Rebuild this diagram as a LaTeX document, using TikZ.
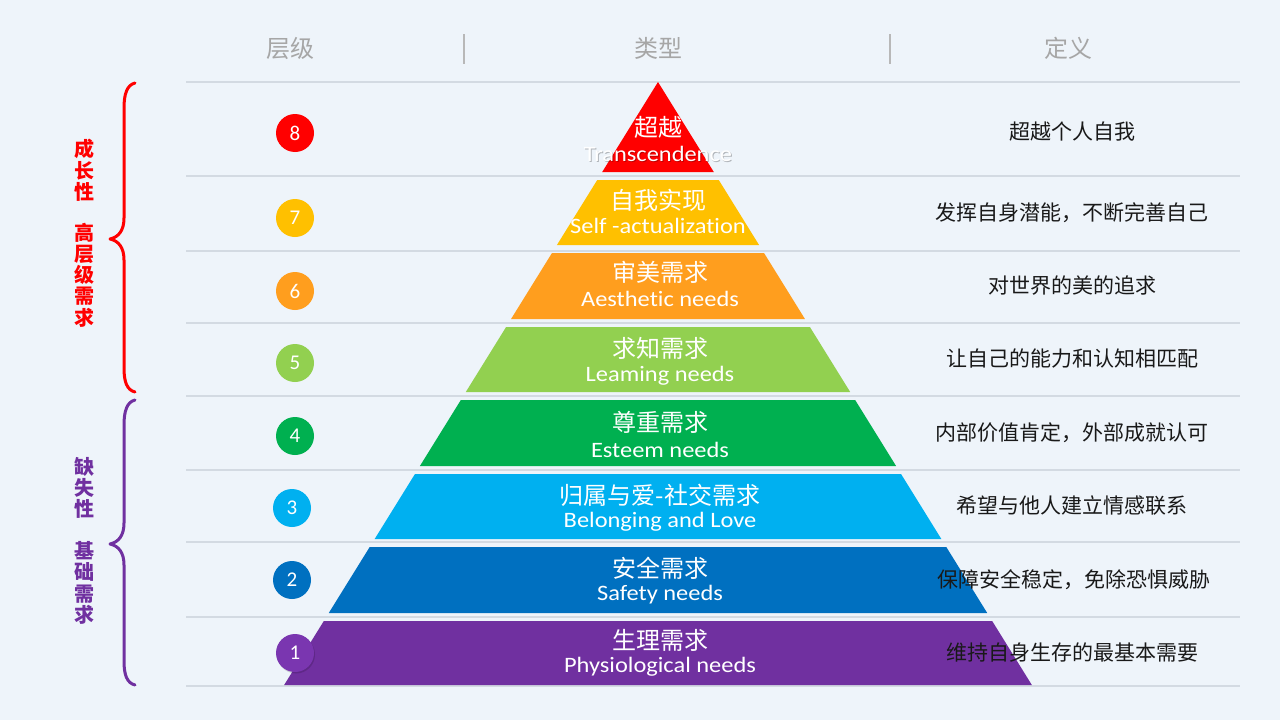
\documentclass[tikz,border=0pt]{standalone}
\usepackage{fontspec}
\setmainfont{Carlito}[Ligatures=NoCommon]
\newfontfamily\cjk{Noto Sans CJK SC}
\definecolor{bg}{HTML}{EEF4FA}
\definecolor{gridc}{HTML}{D3DAE2}
\definecolor{headc}{HTML}{A6A6A6}
\definecolor{cR}{HTML}{FF0000}
\definecolor{cY}{HTML}{FFC000}
\definecolor{cO}{HTML}{FF9E1E}
\definecolor{cLG}{HTML}{92D050}
\definecolor{cG}{HTML}{00B050}
\definecolor{cC}{HTML}{00B0F0}
\definecolor{cB}{HTML}{0070C0}
\definecolor{cP}{HTML}{7030A0}
\definecolor{cP2}{HTML}{7A36B0}
\newcommand{\wideE}[1]{\scalebox{1.11}[1]{#1}}
\tikzset{
  gridline/.style={draw=gridc, line width=1.2pt},
  sepline/.style={draw=headc!80, line width=1.5pt},
  head/.style={text=headc, font=\cjk\fontsize{24}{26}\selectfont, inner sep=0pt},
  cn/.style={text=white, font=\cjk\fontsize{24}{26}\selectfont, inner sep=0pt},
  en/.style={text=white, font=\fontsize{22}{24}\selectfont, inner sep=0pt},
  defn/.style={text=black!90, font=\cjk\fontsize{21}{23}\selectfont, inner sep=0pt},
  num/.style={circle, minimum size=38pt, inner sep=0pt, text=white, font=\fontsize{21}{22}\selectfont},
  vert/.style={align=center, inner sep=0pt, font=\cjk\bfseries\fontsize{20}{21.3}\selectfont},
  brace/.style={line width=3pt, line cap=round, line join=round},
}
\begin{document}
\begin{tikzpicture}[x=1pt,y=-1pt]
\fill[bg] (0,0) rectangle (1280,720);
\useasboundingbox (0,0) rectangle (1280,720);

% header
\node[head] (h1) at (290,48) {层级};
\node[head] (h2) at (658,48) {类型};
\node[head] (h3) at (1068,48) {定义};
\coordinate (s1a) at (464,34); \coordinate (s1b) at (464,64);
\coordinate (s2a) at (890,34); \coordinate (s2b) at (890,64);
\draw[sepline] (s1a) -- (s1b);
\draw[sepline] (s2a) -- (s2b);

% grid lines
\foreach \y in {82,176,251,323,396,470,542,617,686}
  \draw[gridline] (186,\y) -- (1240,\y);

% pyramid layers
\foreach \t/\b/\c in {82/172/cR,180/245/cY,253/319/cO,327/392/cLG,400/466/cG,474/539/cC,547/613/cB,621/685/cP}
  \fill[\c] ({658-0.62*(\t-82)},\t) -- ({658+0.62*(\t-82)},\t) -- ({658+0.62*(\b-82)},\b) -- ({658-0.62*(\b-82)},\b) -- cycle;

% layer texts
\node[cn] (t8) at (658,127) {超越};
\node[en, text=black, opacity=0.25] at (659,155) {\wideE{Transcendence}};
\node[en] (e8) at (658,154) {\wideE{Transcendence}};
\node[cn] (t7) at (658,200) {自我实现};
\node[en] (e7) at (658,226) {\wideE{Self -actualization}};
\node[cn] (t6) at (660,272) {审美需求};
\node[en] (e6) at (660,299) {\wideE{Aesthetic needs}};
\node[cn] (t5) at (660,348) {求知需求};
\node[en] (e5) at (660,376) {\wideE{Leaming needs}};
\node[cn] (t4) at (660,422) {尊重需求};
\node[en] (e4) at (660,450) {\wideE{Esteem needs}};
\node[cn] (t3) at (660,495) {归属与爱-社交需求};
\node[en] (e3) at (660,522) {\wideE{Belonging and Love}};
\node[cn] (t2) at (660,568) {安全需求};
\node[en] (e2) at (660,595) {\wideE{Safety needs}};
\node[cn] (t1) at (660,640) {生理需求};
\node[en] (e1) at (660,667) {\wideE{Physiological needs}};

% circles
\node[num, fill=cR] (n8) at (295,133) {8};
\node[num, fill=cY] (n7) at (295,218) {7};
\node[num, fill=cO] (n6) at (295,291) {6};
\node[num, fill=cLG] (n5) at (295,363) {5};
\node[num, fill=cG] (n4) at (295,436) {4};
\node[num, fill=cC] (n3) at (292,508) {3};
\node[num, fill=cB] (n2) at (292,580) {2};
\node[num, fill=black, opacity=0.15] at (296,654.5) {};
\node[num, fill=cP2] (n1) at (295,653) {1};

% definitions
\node[defn] (d8) at (1072,132) {超越个人自我};
\node[defn] (d7) at (1072,213) {发挥自身潜能，不断完善自己};
\node[defn] (d6) at (1072,286) {对世界的美的追求};
\node[defn] (d5) at (1072,359) {让自己的能力和认知相匹配};
\node[defn] (d4) at (1072,433) {内部价值肯定，外部成就认可};
\node[defn] (d3) at (1072,506) {希望与他人建立情感联系};
\node[defn] (d2) at (1074,580) {保障安全稳定，免除恐惧威胁};
\node[defn] (d1) at (1072,653) {维持自身生存的最基本需要};

% braces
\draw[brace, cR] (135,83) .. controls (127,85) and (124,94) .. (124,108) -- (124,218)
  .. controls (124,230) and (119,237) .. (110,239)
  .. controls (119,241) and (124,248) .. (124,260) -- (124,368)
  .. controls (124,382) and (127,390) .. (135,392);
\draw[brace, cP] (135,400) .. controls (127,402) and (124,411) .. (124,425) -- (124,523)
  .. controls (124,535) and (119,542) .. (110,544)
  .. controls (119,546) and (124,553) .. (124,565) -- (124,661)
  .. controls (124,675) and (127,683) .. (135,685);

% left vertical labels
\node[vert, text=cR] (g1) at (84,170.5) {成\\长\\性};
\node[vert, text=cR] (g2) at (84,275) {高\\层\\级\\需\\求};
\node[vert, text=cP] (b1) at (84,488) {缺\\失\\性};
\node[vert, text=cP] (b2) at (84,583) {基\\础\\需\\求};
\end{tikzpicture}
\end{document}
